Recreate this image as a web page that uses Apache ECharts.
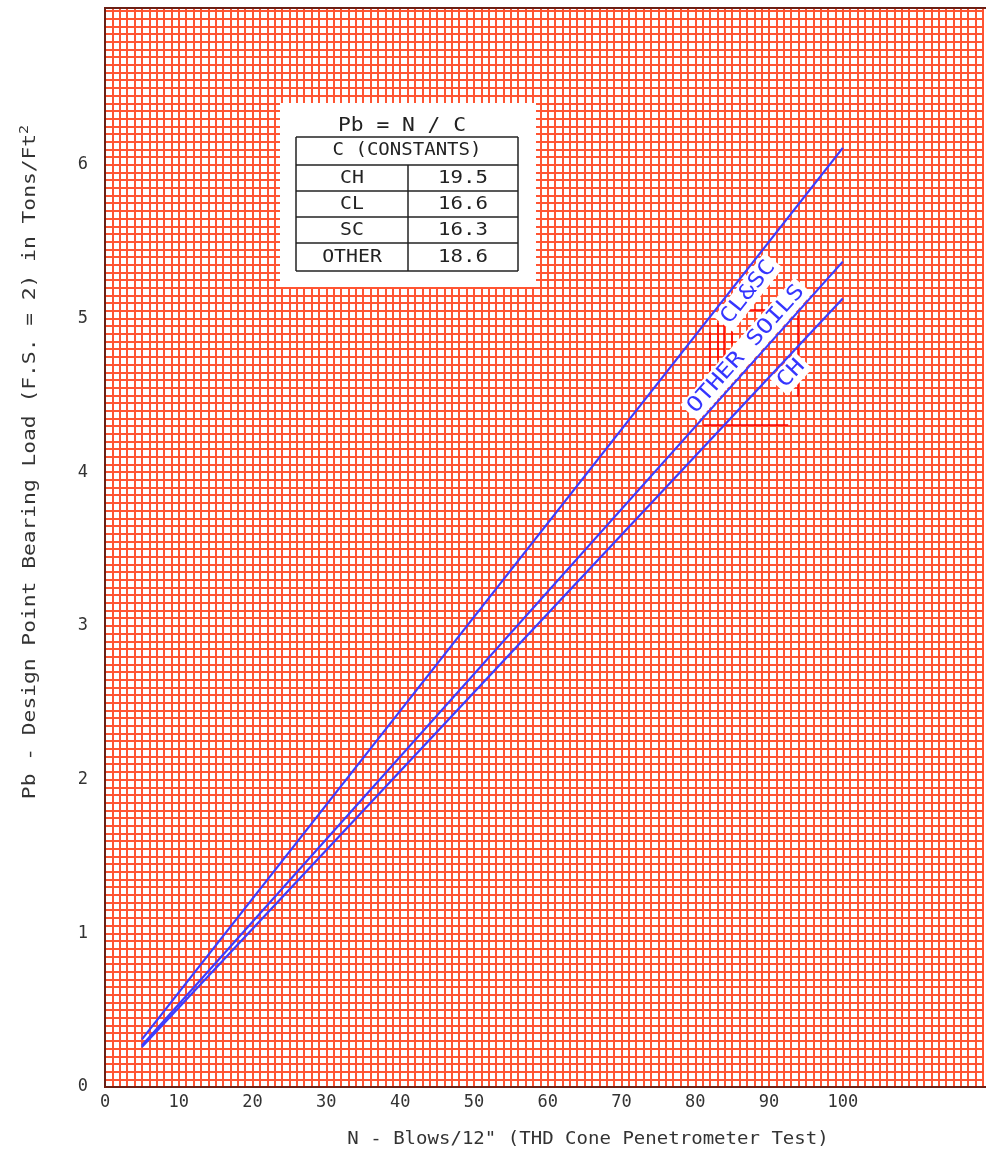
<!DOCTYPE html>
<html>
<head>
<meta charset="utf-8">
<script src="https://cdn.jsdelivr.net/npm/echarts@6/dist/echarts.min.js"></script>
<style>
  html, body { margin: 0; padding: 0; background: #ffffff; }
  #chart { width: 986px; height: 1154px; }
</style>
</head>
<body>
<div id="chart"></div>
<script>
// Blow counts (N) at the two ends of each design line
const blowsN = [5, 100];
// Design point bearing load Pb (tons/ft^2) at those blow counts
const loadClSc = [0.31, 6.11];
const loadOther = [0.27, 5.37];
const loadCh = [0.26, 5.13];

// Tick labels that are printed on the axes
const xTickLabels = ['0', '10', '20', '30', '40', '50', '60', '70', '80', '90', '100'];
const yTickLabels = ['0', '1', '2', '3', '4', '5', '6'];

// Constants table  Pb = N / C
const soilTypes = ['CH', 'CL', 'SC', 'OTHER'];
const soilConstants = ['19.5', '16.6', '16.3', '18.6'];

// Names written along the lines
const lineNames = ['CL&SC', 'OTHER SOILS', 'CH'];

// Short red construction strokes near the line names (N, Pb)
const leaderLines = [
  [[82.0, 4.91], [82.0, 4.65]],
  [[83.1, 4.97], [83.1, 4.73]],
  [[83.8, 4.99], [83.8, 4.75]],
  [[84.9, 4.94], [84.9, 4.83]],
  [[87.2, 5.06], [89.5, 5.06]],
  [[93.9, 5.02], [93.9, 4.49]],
  [[81.1, 4.31], [92.6, 4.31]]
];

const GRID = { left: 105, top: 8, right: 0, bottom: 67 };
const GRID_COLOR = '#ff5533';
const LINE_COLOR = '#3c3cff';
const MONO = '"DejaVu Sans Mono", monospace';

function pairs(xs, ys) { return xs.map((x, i) => [x, ys[i]]); }
function isWhole(v) { return Math.abs(v - Math.round(v)) < 1e-6; }

const chart = echarts.init(document.getElementById('chart'), null, { renderer: 'canvas' });

const lineSeries = (name, values) => ({
  name: name,
  type: 'line',
  data: pairs(blowsN, values),
  symbol: 'none',
  silent: true,
  z: 5,
  lineStyle: { color: LINE_COLOR, width: 2.2 }
});

chart.setOption({
  animation: false,
  backgroundColor: '#ffffff',
  grid: { left: GRID.left, top: GRID.top, right: GRID.right, bottom: GRID.bottom, containLabel: false },
  xAxis: {
    type: 'value',
    min: 0,
    max: 119,
    interval: 1,
    axisLine: { show: false },
    axisTick: { show: false },
    splitLine: { show: true, lineStyle: { color: GRID_COLOR, width: 2 } },
    axisLabel: {
      margin: 7,
      color: '#333333',
      fontFamily: MONO,
      fontSize: 17,
      formatter: v => (isWhole(v) && xTickLabels.includes(String(Math.round(v)))) ? String(Math.round(v)) : ''
    }
  },
  yAxis: {
    type: 'value',
    min: 0,
    max: 7.02,
    interval: 0.05,
    axisLine: { show: false },
    axisTick: { show: false },
    splitLine: { show: true, lineStyle: { color: GRID_COLOR, width: 2 } },
    axisLabel: {
      margin: 17,
      color: '#333333',
      fontFamily: MONO,
      fontSize: 17,
      formatter: v => (isWhole(v) && yTickLabels.includes(String(Math.round(v)))) ? String(Math.round(v)) : ''
    }
  },
  series: [
    lineSeries('CL&SC', loadClSc),
    lineSeries('OTHER SOILS', loadOther),
    lineSeries('CH', loadCh),
    {
      type: 'lines',
      coordinateSystem: 'cartesian2d',
      silent: true,
      z: 3,
      lineStyle: { color: '#ff0000', width: 1.5, opacity: 1 },
      data: leaderLines.map(seg => ({ coords: seg }))
    }
  ]
});

// ---- overlay: border, titles, constants table, names along the lines ----
const px = (x, y) => chart.convertToPixel({ gridIndex: 0 }, [x, y]);
const W = chart.getWidth(), H = chart.getHeight();
const plotW = W - GRID.left - GRID.right, plotH = H - GRID.top - GRID.bottom;

const g = [];

// plot frame (its right side runs off the page edge)
g.push({
  type: 'rect', z: 20, silent: true,
  shape: { x: GRID.left, y: GRID.top, width: plotW + 20, height: plotH },
  style: { fill: 'none', stroke: '#6b2015', lineWidth: 2 }
});

// axis titles
g.push({
  type: 'text', z: 20, silent: true,
  x: 588, y: 1140, scaleX: 1.12,
  style: {
    text: 'N - Blows/12" (THD Cone Penetrometer Test)',
    font: '17px ' + MONO, fill: '#333333', align: 'center', verticalAlign: 'middle'
  }
});
g.push({
  type: 'text', z: 20, silent: true,
  x: 31, y: 462, rotation: Math.PI / 2, scaleX: 1.25,
  style: {
    text: '{m|Pb - Design Point Bearing Load (F.S. = 2) in Tons/Ft}{s|2}',
    align: 'center', verticalAlign: 'middle',
    rich: {
      m: { font: '17px ' + MONO, fill: '#333333', lineHeight: 24 },
      s: { font: '12px ' + MONO, fill: '#333333', lineHeight: 12, verticalAlign: 'top' }
    }
  }
});

// constants table
const box = { x: 280, y: 103, w: 256, h: 184 };
const tbl = { x: 296, y: 137, w: 222, colX: 408, rowYs: [137, 165, 191, 217, 243, 271] };
g.push({
  type: 'rect', z: 30, silent: true,
  shape: { x: box.x, y: box.y, width: box.w, height: box.h },
  style: { fill: '#ffffff' }
});
g.push({
  type: 'text', z: 31, silent: true, x: 402, y: 126, scaleX: 1.12,
  style: { text: 'Pb = N / C', font: '19px ' + MONO, fill: '#222222', align: 'center', verticalAlign: 'middle' }
});
const tableLines = [];
tbl.rowYs.forEach(y => tableLines.push([tbl.x, y, tbl.x + tbl.w, y]));
tableLines.push([tbl.x, tbl.rowYs[0], tbl.x, tbl.rowYs[5]]);
tableLines.push([tbl.x + tbl.w, tbl.rowYs[0], tbl.x + tbl.w, tbl.rowYs[5]]);
tableLines.push([tbl.colX, tbl.rowYs[1], tbl.colX, tbl.rowYs[5]]);
tableLines.forEach(l => g.push({
  type: 'line', z: 31, silent: true,
  shape: { x1: l[0], y1: l[1], x2: l[2], y2: l[3] },
  style: { stroke: '#222222', lineWidth: 1.5 }
}));
g.push({
  type: 'text', z: 31, silent: true, x: 407, y: 151, scaleX: 1.12,
  style: { text: 'C (CONSTANTS)', font: '17px ' + MONO, fill: '#222222', align: 'center', verticalAlign: 'middle' }
});
soilTypes.forEach((s, i) => {
  const cy = (tbl.rowYs[i + 1] + tbl.rowYs[i + 2]) / 2;
  g.push({
    type: 'text', z: 31, silent: true, x: (tbl.x + tbl.colX) / 2, y: cy, scaleX: 1.1,
    style: { text: s, font: '18px ' + MONO, fill: '#222222', align: 'center', verticalAlign: 'middle' }
  });
  g.push({
    type: 'text', z: 31, silent: true, x: (tbl.colX + tbl.x + tbl.w) / 2, y: cy, scaleX: 1.15,
    style: { text: soilConstants[i], font: '18px ' + MONO, fill: '#222222', align: 'center', verticalAlign: 'middle' }
  });
});

// names written along each line, turned to the line's slope
const nameSpots = [
  { series: loadClSc, at: [87.2, 5.17] },
  { series: loadOther, at: [86.9, 4.80] },
  { series: loadCh, at: [93.0, 4.64] }
];
nameSpots.forEach((spot, i) => {
  const p1 = px(blowsN[0], spot.series[0]);
  const p2 = px(blowsN[1], spot.series[1]);
  const ang = Math.atan2(p1[1] - p2[1], p2[0] - p1[0]);
  const c = px(spot.at[0], spot.at[1]);
  g.push({
    type: 'text', z: 25, silent: true,
    x: c[0], y: c[1], rotation: ang, scaleX: 1.18,
    style: {
      text: lineNames[i], font: '21px ' + MONO, fill: '#3535ff',
      align: 'center', verticalAlign: 'middle',
      backgroundColor: '#ffffff', padding: [2, 3, 1, 3]
    }
  });
});

chart.setOption({ graphic: { elements: g } });
</script>
</body>
</html>
